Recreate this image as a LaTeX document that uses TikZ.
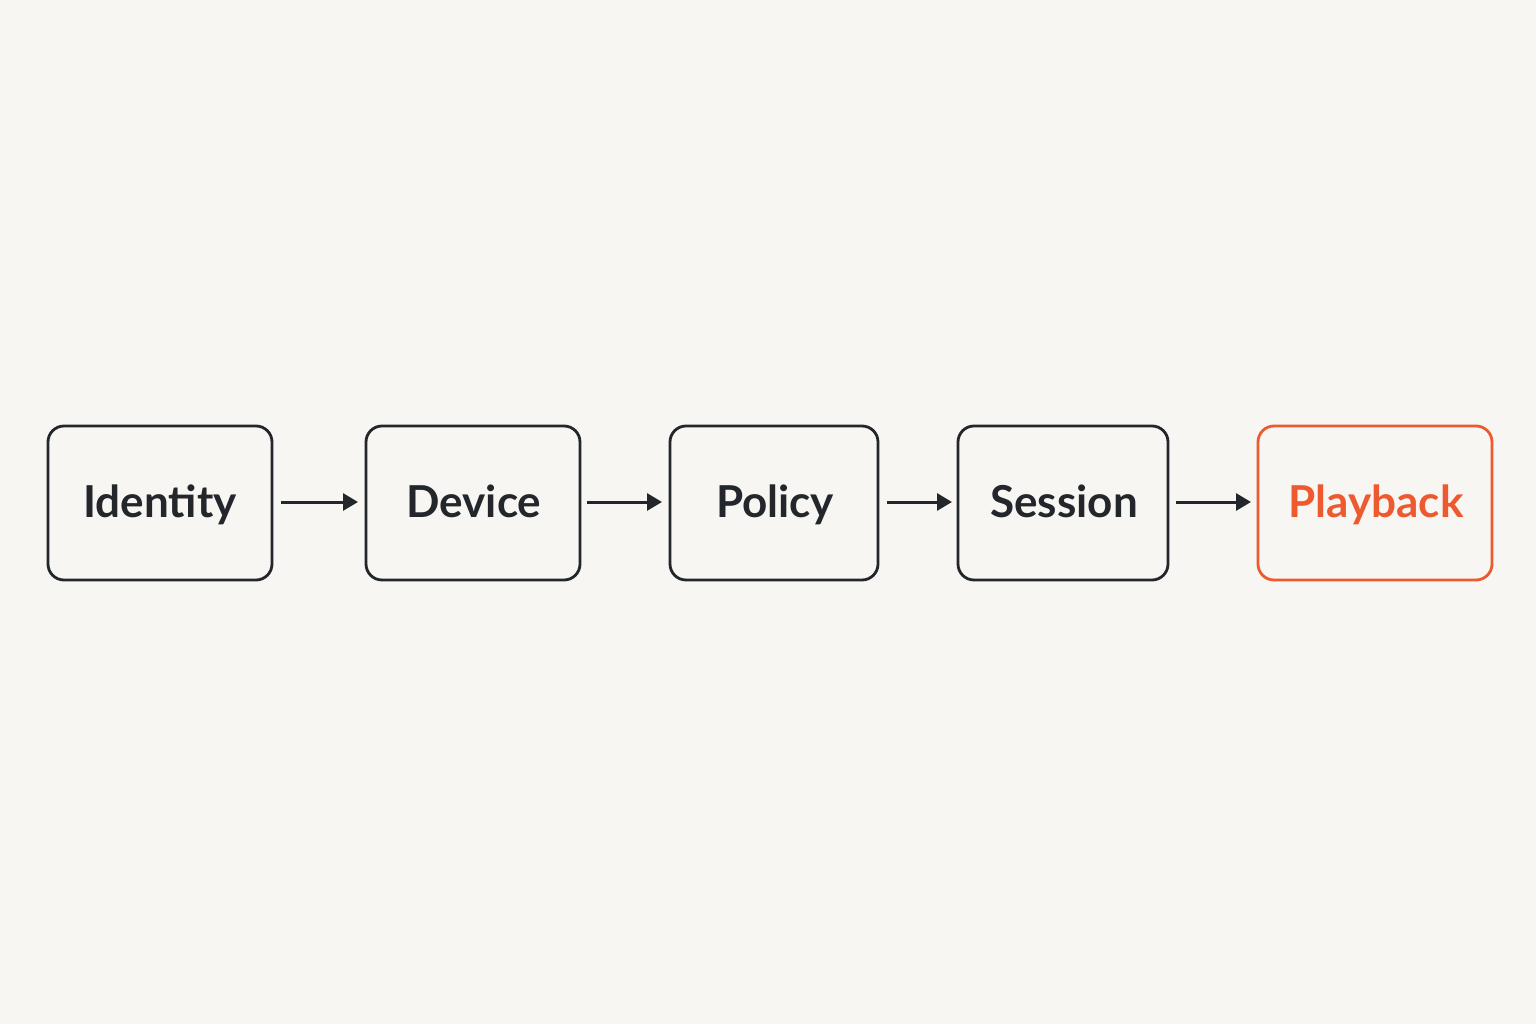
\documentclass[tikz,border=0pt]{standalone}
\usepackage{fontspec}
\setmainfont{Lato}
\usetikzlibrary{arrows.meta}
\definecolor{bg}{HTML}{F8F6F2}
\definecolor{ink}{HTML}{23272B}
\definecolor{accent}{HTML}{EE5A2F}
\begin{document}
\begin{tikzpicture}[x=1pt,y=-1pt,
  box/.style={draw=ink,line width=2.8pt,rounded corners=16pt},
  hot/.style={box,draw=accent},
  lbl/.style={anchor=base,text=ink,font=\fontsize{44}{52}\selectfont\bfseries},
  arr/.style={draw=ink,line width=3pt,-{Triangle[length=15pt,width=17pt]}}]
\fill[bg] (0,0) rectangle (1536,1024);
\useasboundingbox (0,0) rectangle (1536,1024);
\draw[box] (48,426) rectangle (272,580);
\node[lbl] (Identity) at (160,517) {Identity};
\draw[box] (366,426) rectangle (580,580);
\node[lbl] (Device) at (474,517) {Device};
\draw[box] (670,426) rectangle (878,580);
\node[lbl] (Policy) at (775,517) {Policy};
\draw[box] (958,426) rectangle (1168,580);
\node[lbl] (Session) at (1064,517) {Session};
\draw[hot] (1258,426) rectangle (1492,580);
\node[lbl,text=accent] (Playback) at (1376,517) {Playback};
\coordinate (a1) at (281,502); \coordinate (b1) at (358,502);
\coordinate (a2) at (587,502); \coordinate (b2) at (662,502);
\coordinate (a3) at (887,502); \coordinate (b3) at (952,502);
\coordinate (a4) at (1176,502); \coordinate (b4) at (1251,502);
\draw[arr] (a1) -- (b1);
\draw[arr] (a2) -- (b2);
\draw[arr] (a3) -- (b3);
\draw[arr] (a4) -- (b4);
\end{tikzpicture}
\end{document}
